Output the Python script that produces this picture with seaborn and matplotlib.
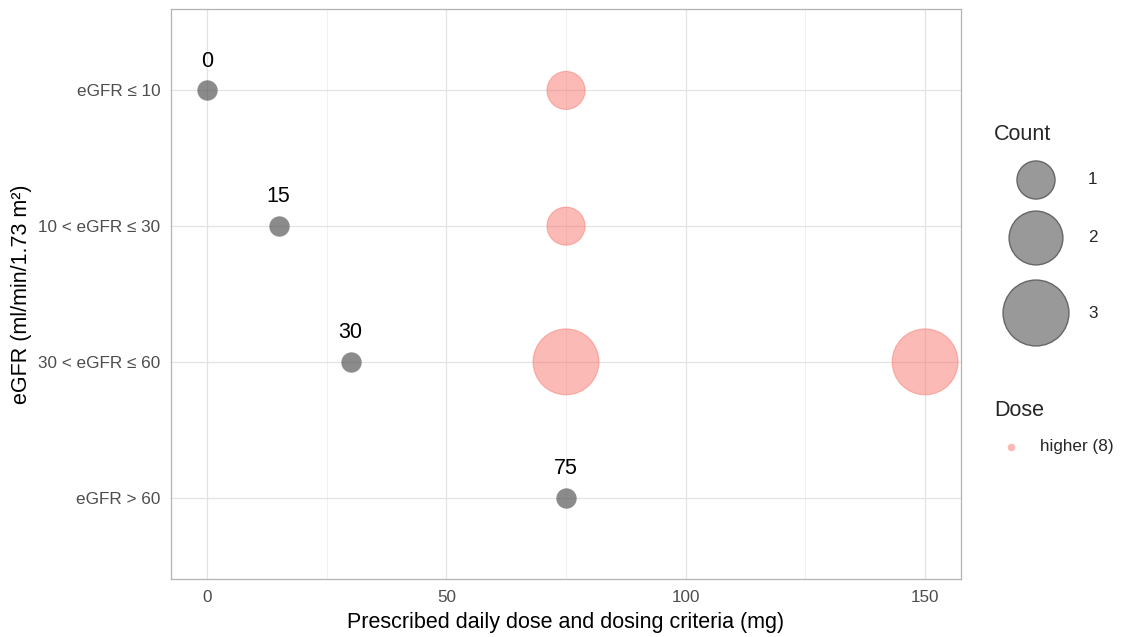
import matplotlib
matplotlib.use("Agg")
import matplotlib.pyplot as plt
from matplotlib.ticker import MultipleLocator
import seaborn as sns
import pandas as pd

# eGFR groups, top to bottom, and the dosing criterion for each group (mg)
egfr_groups = ["eGFR ≤ 10", "10 < eGFR ≤ 30", "30 < eGFR ≤ 60", "eGFR > 60"]
criteria_dose = [0, 15, 30, 75]

# Prescriptions above the criterion: group, daily dose (mg), number of patients
higher_group = ["eGFR ≤ 10", "10 < eGFR ≤ 30", "30 < eGFR ≤ 60", "30 < eGFR ≤ 60"]
higher_dose = [75, 75, 75, 150]
higher_count = [1, 1, 3, 3]

x_ticks = [0, 50, 100, 150]
count_levels = [1, 2, 3]

PINK = "#F8766D"
GREY_DOT = "#4d4d4d"
W, H = 1124, 637

sns.set_theme(style="white")
plt.rcParams["font.family"] = ["Liberation Sans", "DejaVu Sans"]

# bubble area proportional to count
size_map = {c: 750 * c for c in count_levels}

row_of = {g: len(egfr_groups) - 1 - i for i, g in enumerate(egfr_groups)}

crit = pd.DataFrame({"dose": criteria_dose,
                     "row": [row_of[g] for g in egfr_groups]})
higher = pd.DataFrame({"dose": higher_dose,
                       "row": [row_of[g] for g in higher_group],
                       "count": higher_count})

fig = plt.figure(figsize=(W / 100, H / 100), dpi=100)
ax = fig.add_axes([171 / W, (H - 579) / H, (961 - 171) / W, (579 - 9) / H])

sns.scatterplot(data=higher, x="dose", y="row", size="count", sizes=size_map,
                color=PINK, alpha=0.5, edgecolor=PINK, linewidth=0.8,
                legend=False, ax=ax, zorder=3)
sns.scatterplot(data=crit, x="dose", y="row", color=GREY_DOT, alpha=0.65,
                s=215, linewidth=0, legend=False, ax=ax, zorder=4)

for d, r in zip(crit["dose"], crit["row"]):
    ax.text(d, r + 0.215, str(d), ha="center", va="center",
            fontsize=15.5, color="black", zorder=5)

ax.set_xlim(-7.5, 157.5)
ax.set_ylim(-0.6, len(egfr_groups) - 0.4)
ax.set_xticks(x_ticks)
ax.xaxis.set_minor_locator(MultipleLocator(25))
ax.set_yticks([row_of[g] for g in egfr_groups])
ax.set_yticklabels(egfr_groups)

ax.grid(which="major", color="#e3e3e3", linewidth=0.9, zorder=0)
ax.grid(which="minor", axis="x", color="#eeeeee", linewidth=0.6, zorder=0)
ax.set_axisbelow(True)
for s in ax.spines.values():
    s.set_color("#b3b3b3")
    s.set_linewidth(0.9)
ax.tick_params(which="major", length=3.2, width=0.7, color="#b3b3b3",
               labelcolor="#4d4d4d", labelsize=12.3, pad=4.5)
ax.tick_params(which="minor", length=0)

ax.set_xlabel("Prescribed daily dose and dosing criteria (mg)",
              fontsize=15.5, color="black", labelpad=5)
ax.set_ylabel("eGFR (ml/min/1.73 m²)", fontsize=15.5, color="black",
              labelpad=4)

# legend panel drawn in figure pixel space
lax = fig.add_axes([0, 0, 1, 1], zorder=10)
lax.set_xlim(0, W)
lax.set_ylim(H, 0)
lax.axis("off")

lax.text(994, 135, "Count", fontsize=15.5, va="center", ha="left")
key_y = [180, 238, 313]
lax.scatter([1036] * len(count_levels), key_y,
            s=[size_map[c] for c in count_levels],
            color="#999999", edgecolor="#666666", linewidth=1.0)
for c, y in zip(count_levels, key_y):
    lax.text(1088, y, str(c), fontsize=12.3, va="center", ha="left")

lax.text(994, 410, "Dose", fontsize=15.5, va="center", ha="left")
lax.scatter([1011], [447], s=30, color=PINK, alpha=0.5, linewidth=0)
lax.text(1040, 447, f"higher ({sum(higher_count)})", fontsize=12.3,
         va="center", ha="left")

fig.savefig("out.png", dpi=100, facecolor="white")
